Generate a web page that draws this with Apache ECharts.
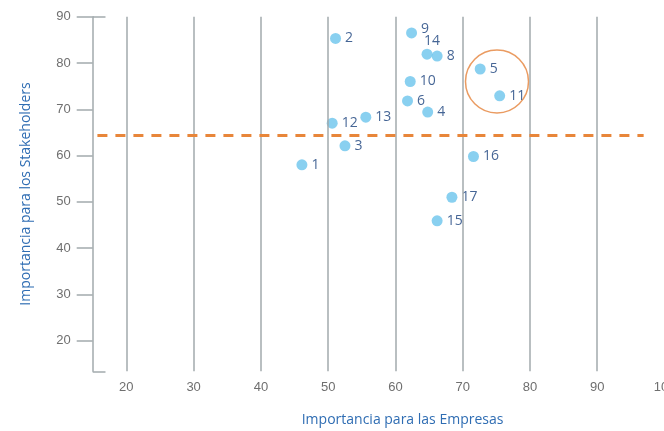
<!DOCTYPE html>
<html>
<head>
<meta charset="utf-8">
<script src="https://cdn.jsdelivr.net/npm/echarts@6/dist/echarts.min.js"></script>
<style>html,body{margin:0;padding:0;background:#fff;}#c{width:664px;height:431px;}</style>
</head>
<body>
<div id="c"></div>
<script>
var ids   = ['1','2','3','4','5','6','8','9','10','11','12','13','14','15','16','17'];
var xVals = [46.1,51.1,52.5,64.8,72.6,61.8,66.2,62.4,62.2,75.5,50.6,55.6,64.7,66.2,71.6,68.4];
var yVals = [58.0,85.3,62.1,69.4,78.7,71.8,81.5,86.5,76.0,72.9,67.0,68.3,81.9,45.9,59.8,51.0];
var xTicks = [20,30,40,50,60,70,80,90,100];
var yTicks = [20,30,40,50,60,70,80,90];
var threshold = 64.3;
var highlightCenter = [75.1, 76.0];

var gridColor = '#a2aaad';
var pts = ids.map(function(id, i){
  var d = {value:[xVals[i], yVals[i]], name:id};
  if (id === '9') d.label = {offset:[0,-4]};
  if (id === '14') d.label = {position:'top', distance:1, offset:[5,0]};
  return d;
});

var chart = echarts.init(document.getElementById('c'));
chart.setOption({
  animation:false,
  grid:{left:92.7, right:-0.5, top:16.7, bottom:59.7, containLabel:false, outerBoundsMode:'none'},
  xAxis:{
    type:'value', min:15, max:100, splitNumber:8,
    axisLine:{show:false}, axisTick:{show:false}, splitLine:{show:false},
    axisLabel:{customValues:xTicks, color:'#6f6f6f', fontSize:13, fontFamily:'Liberation Sans', margin:10}
  },
  yAxis:{
    type:'value', min:13.4, max:90, splitNumber:8,
    name:'Importancia para los Stakeholders', nameLocation:'middle', nameGap:60,
    nameTextStyle:{color:'#2f6db3', fontSize:14, fontFamily:'Open Sans'},
    axisLine:{show:true, lineStyle:{color:gridColor, width:1.5}},
    axisTick:{show:true, customValues:yTicks, length:16, lineStyle:{color:gridColor, width:1.5}},
    splitLine:{show:false},
    axisLabel:{customValues:yTicks, color:'#6f6f6f', fontSize:13, fontFamily:'Liberation Sans', margin:22}
  },
  graphic:[{type:'text', left:301.7, top:413, style:{text:'Importancia para las Empresas', fill:'#2f6db3', font:'14px "Open Sans"'}}],
  series:[
    {
      type:'line', data:[], silent:true, symbol:'none',
      markLine:{
        silent:true, symbol:'none', label:{show:false},
        lineStyle:{color:gridColor, width:1.5, type:'solid'},
        data: yTicks.slice(0,8).map(function(v){ return {xAxis: xTicks[yTicks.indexOf(v)]}; }).concat([
          [{coord:[15,90]},{coord:[16.9,90]}],
          [{coord:[15,13.4]},{coord:[16.9,13.4]}]
        ])
      }
    },
    {
      type:'line', data:[], silent:true, symbol:'none',
      markLine:{
        silent:true, symbol:'none', label:{show:false},
        lineStyle:{color:'#e8863a', width:3, type:[10,8]},
        data:[[{coord:[15.7,threshold]},{coord:[96.9,threshold]}]]
      }
    },
    {
      type:'scatter', silent:true, symbolSize:63, z:1,
      itemStyle:{color:'rgba(0,0,0,0)', borderColor:'#e5823a', borderWidth:1.5},
      data:[highlightCenter]
    },
    {
      type:'scatter', symbolSize:11, z:3,
      itemStyle:{color:'#6cc4ec'},
      label:{show:true, position:'right', distance:4, formatter:'{b}', color:'#173f7a', fontSize:14, fontFamily:'Open Sans'},
      data:pts
    }
  ]
});
</script>
</body>
</html>
